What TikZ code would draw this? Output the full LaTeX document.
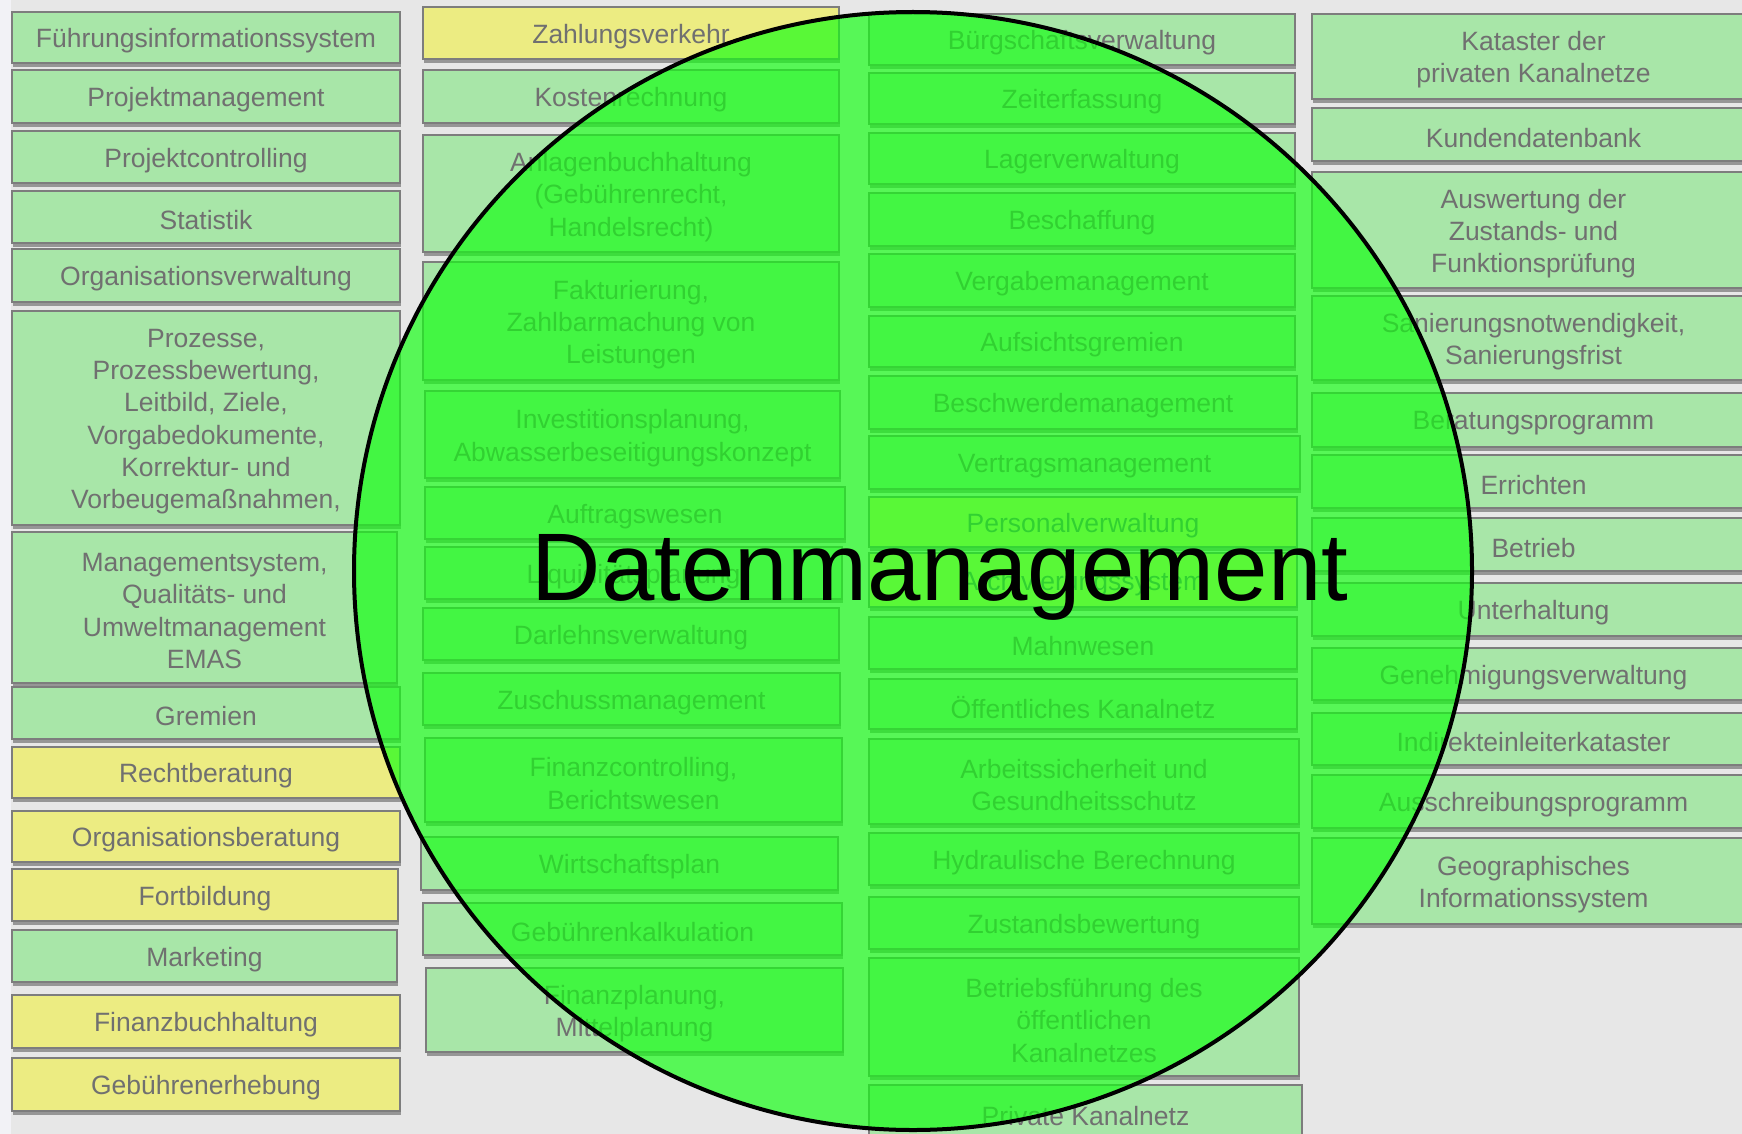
\documentclass[tikz,border=0pt]{standalone}
\usepackage{fontspec}
\setmainfont{Liberation Sans}
\usetikzlibrary{shadows}
\definecolor{bg}{RGB}{231,231,231}
\definecolor{bgleft}{RGB}{242,242,246}
\definecolor{boxgreen}{RGB}{168,230,168}
\definecolor{boxyellow}{RGB}{236,236,130}
\definecolor{boxline}{RGB}{125,125,125}
\definecolor{boxtext}{RGB}{112,112,112}
\definecolor{shadowgray}{RGB}{150,150,150}
\definecolor{bigcircle}{RGB}{20,255,20}
\tikzset{
  boxframe/.style={draw=boxline, line width=1.2pt, inner sep=0pt,
    drop shadow={shadow xshift=1pt, shadow yshift=-4pt, fill=shadowgray, opacity=1}},
  gbox/.style={boxframe, fill=boxgreen},
  ybox/.style={boxframe, fill=boxyellow},
  boxlabel/.style={text=boxtext, align=center, inner sep=0pt,
    font=\fontsize{26.5}{32.3}\selectfont},
  dmcircle/.style={circle, draw=black, line width=4pt, fill=bigcircle, fill opacity=0.68,
    minimum size=1118pt, inner sep=0pt, outer sep=0pt},
  dmlabel/.style={anchor=base, text=black, font=\fontsize{96}{110}\selectfont}
}
\newcommand\bx[7]{%
  \node[#6, minimum width={(#4-#2)*1pt}, minimum height={(#5-#3)*1pt}] (#1) at ({(#2+#4)/2},{(#3+#5)/2}) {};
  \node[boxlabel] (#1-t) at ({(#2+#4)/2},{(#3+#5)/2+3.5}) {#7};}
\begin{document}
\begin{tikzpicture}[x=1pt,y=-1pt]
\useasboundingbox (0,0) rectangle (1742,1134);
\fill[bg] (0,0) rectangle (1742,1134);
\fill[bgleft] (0,0) rectangle (11,1134);
% column 1
\bx{fuehr}{12}{12}{400}{63}{gbox}{Führungsinformationssystem}
\bx{projm}{12}{70}{400}{123}{gbox}{Projektmanagement}
\bx{projc}{12}{131}{400}{183}{gbox}{Projektcontrolling}
\bx{stat}{12}{191}{400}{243}{gbox}{Statistik}
\bx{orgv}{12}{249}{400}{302}{gbox}{Organisationsverwaltung}
\bx{proz}{12}{311}{400}{525}{gbox}{Prozesse,\\Prozessbewertung,\\Leitbild, Ziele,\\Vorgabedokumente,\\Korrektur- und\\Vorbeugemaßnahmen,}
\bx{mgmt}{12}{532}{397}{683}{gbox}{Managementsystem,\\Qualitäts- und\\Umweltmanagement\\EMAS}
\bx{grem}{12}{687}{400}{739}{gbox}{Gremien}
\bx{recht}{12}{747}{400}{798}{ybox}{Rechtberatung}
\bx{orgb}{12}{811}{400}{862}{ybox}{Organisationsberatung}
\bx{fortb}{12}{869}{398}{921}{ybox}{Fortbildung}
\bx{mark}{12}{930}{397}{982}{gbox}{Marketing}
\bx{fibu}{12}{995}{400}{1048}{ybox}{Finanzbuchhaltung}
\bx{gebe}{12}{1058}{400}{1111}{ybox}{Gebührenerhebung}
% column 2
\bx{zahl}{423}{7}{839}{59}{ybox}{Zahlungsverkehr}
\bx{kost}{423}{70}{839}{123}{gbox}{Kostenrechnung}
\bx{anl}{423}{135}{839}{252}{gbox}{Anlagenbuchhaltung\\(Gebührenrecht,\\Handelsrecht)}
\bx{fakt}{423}{262}{839}{380}{gbox}{Fakturierung,\\Zahlbarmachung von\\Leistungen}
\bx{inv}{425}{391}{840}{478}{gbox}{Investitionsplanung,\\Abwasserbeseitigungskonzept}
\bx{auft}{425}{487}{845}{539}{gbox}{Auftragswesen}
\bx{liqu}{425}{547}{842}{599}{gbox}{Liquiditätsplanung}
\bx{darl}{423}{608}{839}{660}{gbox}{Darlehnsverwaltung}
\bx{zusch}{423}{673}{840}{725}{gbox}{Zuschussmanagement}
\bx{fcon}{425}{738}{842}{822}{gbox}{Finanzcontrolling,\\Berichtswesen}
\bx{wirt}{421}{837}{838}{890}{gbox}{Wirtschaftsplan}
\bx{gebk}{423}{903}{842}{955}{gbox}{Gebührenkalkulation}
\bx{fplan}{426}{968}{843}{1052}{gbox}{Finanzplanung,\\Mittelplanung}
% column 3
\bx{buerg}{869}{14}{1295}{65}{gbox}{Bürgschaftsverwaltung}
\bx{zeit}{869}{73}{1295}{124}{gbox}{Zeiterfassung}
\bx{lager}{869}{133}{1295}{184}{gbox}{Lagerverwaltung}
\bx{besch}{869}{193}{1295}{246}{gbox}{Beschaffung}
\bx{verg}{869}{254}{1295}{307}{gbox}{Vergabemanagement}
\bx{aufs}{869}{316}{1295}{367}{gbox}{Aufsichtsgremien}
\bx{beschw}{869}{376}{1297}{429}{gbox}{Beschwerdemanagement}
\bx{vertr}{869}{436}{1300}{489}{gbox}{Vertragsmanagement}
\bx{pers}{869}{497}{1297}{547}{ybox}{Personalverwaltung}
\bx{arch}{869}{553}{1297}{607}{ybox}{Archivierungssystem}
\bx{mahn}{869}{617}{1297}{669}{gbox}{Mahnwesen}
\bx{oeff}{869}{679}{1297}{729}{gbox}{Öffentliches Kanalnetz}
\bx{arb}{869}{739}{1299}{824}{gbox}{Arbeitssicherheit und\\Gesundheitsschutz}
\bx{hydr}{869}{833}{1299}{885}{gbox}{Hydraulische Berechnung}
\bx{zust}{869}{897}{1299}{949}{gbox}{Zustandsbewertung}
\bx{betr}{869}{958}{1299}{1076}{gbox}{Betriebsführung des\\öffentlichen\\Kanalnetzes}
\bx{priv}{869}{1085}{1302}{1141}{gbox}{Private Kanalnetz}
% column 4
\bx{kat}{1312}{14}{1755}{99}{gbox}{Kataster der\\privaten Kanalnetze}
\bx{kund}{1312}{108}{1755}{161}{gbox}{Kundendatenbank}
\bx{ausw}{1312}{172}{1755}{288}{gbox}{Auswertung der\\Zustands- und\\Funktionsprüfung}
\bx{san}{1312}{296}{1755}{380}{gbox}{Sanierungsnotwendigkeit,\\Sanierungsfrist}
\bx{berat}{1312}{393}{1755}{447}{gbox}{Beratungsprogramm}
\bx{err}{1312}{455}{1755}{508}{gbox}{Errichten}
\bx{betrieb}{1312}{518}{1755}{571}{gbox}{Betrieb}
\bx{unter}{1312}{583}{1755}{636}{gbox}{Unterhaltung}
\bx{genehm}{1312}{648}{1755}{700}{gbox}{Genehmigungsverwaltung}
\bx{indir}{1312}{713}{1755}{765}{gbox}{Indirekteinleiterkataster}
\bx{aussch}{1312}{775}{1755}{828}{gbox}{Ausschreibungsprogramm}
\bx{geo}{1312}{838}{1755}{924}{gbox}{Geographisches\\Informationssystem}
% central circle
\node[dmcircle] (dm) at (913,571) {};
\node[dmlabel] (dmtext) at (940,600) {Datenmanagement};
\end{tikzpicture}
\end{document}
